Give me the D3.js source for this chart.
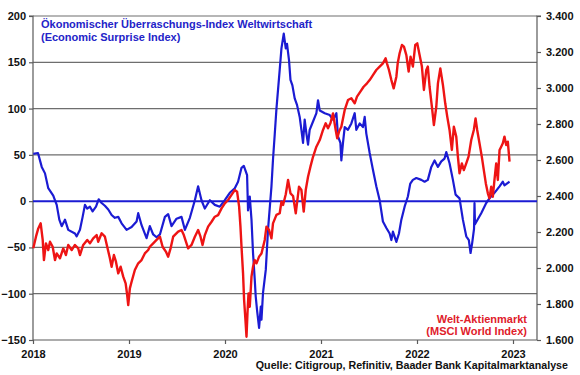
<!DOCTYPE html>
<html><head><meta charset="utf-8">
<script src="https://cdn.jsdelivr.net/npm/d3@7"></script>
<style>
html,body{margin:0;padding:0;background:#fff;}
svg{display:block;font-family:"Liberation Sans",Arial,sans-serif;font-weight:bold;}
</style></head>
<body><svg id="c" width="580" height="375"></svg>
<script>
// Economic Surprise Index (left axis): decimal year / value
const esiTime = [2018.003,2018.052,2018.091,2018.125,2018.159,2018.211,2018.247,2018.274,2018.299,2018.333,2018.367,2018.437,2018.455,2018.489,2018.517,2018.541,2018.565,2018.593,2018.621,2018.656,2018.684,2018.715,2018.749,2018.784,2018.819,2018.853,2018.888,2018.923,2018.975,2019.027,2019.079,2019.096,2019.131,2019.183,2019.217,2019.252,2019.287,2019.322,2019.374,2019.408,2019.443,2019.495,2019.547,2019.582,2019.634,2019.686,2019.720,2019.755,2019.790,2019.842,2019.894,2019.946,2019.998,2020.050,2020.102,2020.136,2020.172,2020.196,2020.230,2020.240,2020.258,2020.276,2020.292,2020.310,2020.320,2020.334,2020.355,2020.373,2020.380,2020.396,2020.425,2020.448,2020.484,2020.500,2020.518,2020.536,2020.570,2020.588,2020.612,2020.633,2020.646,2020.667,2020.682,2020.702,2020.726,2020.750,2020.778,2020.796,2020.813,2020.830,2020.848,2020.865,2020.882,2020.917,2020.952,2020.969,2020.987,2021.039,2021.091,2021.125,2021.160,2021.177,2021.202,2021.212,2021.229,2021.247,2021.281,2021.316,2021.351,2021.368,2021.403,2021.437,2021.455,2021.472,2021.507,2021.541,2021.576,2021.611,2021.645,2021.681,2021.715,2021.733,2021.749,2021.785,2021.812,2021.837,2021.871,2021.905,2021.930,2021.957,2021.993,2022.045,2022.079,2022.113,2022.149,2022.183,2022.218,2022.253,2022.287,2022.305,2022.339,2022.374,2022.402,2022.443,2022.478,2022.513,2022.540,2022.558,2022.575,2022.594,2022.599,2022.604,2022.669,2022.721,2022.755,2022.807,2022.860,2022.894,2022.911,2022.964];
const esiValue = [51,52,37,30,14,6,-4,-20,-27,-20,-31,-35,-38,-31,-17,-4,-8,-6,-11,-6,2,-2,-5,-9,-15,-18,-17,-24,-31,-28,-22,-13,-26,-40,-27,-36,-39,-36,-17,-14,-27,-19,-17,-31,-18,1,16,1,-8,1,-4,-6,1,9,14,21,36,38,28,-10,5,-20,-56,-85,-103,-118,-137,-114,-128,-99,-74,-31,16,45,72,100,142,165,181,165,170,152,131,125,111,104,91,77,63,88,73,61,77,86,95,109,98,95,93,88,95,70,63,44,63,80,77,84,95,77,84,80,91,73,52,34,16,1,-22,-29,-35,-42,-33,-44,-35,-20,-6,5,19,23,25,23,21,23,37,44,37,43,46,53,41,23,7,3,-20,-38,-42,-56,-45,-30,-2,-25,-13,-2,3,9,16,21,17,21];

// MSCI World Index (right axis): decimal year / value
const msciTime = [2018.003,2018.031,2018.055,2018.080,2018.101,2018.114,2018.135,2018.159,2018.177,2018.205,2018.229,2018.247,2018.281,2018.315,2018.343,2018.367,2018.403,2018.437,2018.471,2018.489,2018.523,2018.565,2018.593,2018.627,2018.663,2018.679,2018.715,2018.749,2018.773,2018.801,2018.819,2018.843,2018.864,2018.888,2018.913,2018.940,2018.965,2018.981,2018.992,2019.009,2019.027,2019.061,2019.096,2019.131,2019.165,2019.200,2019.217,2019.252,2019.287,2019.322,2019.350,2019.384,2019.408,2019.433,2019.460,2019.512,2019.547,2019.571,2019.616,2019.651,2019.686,2019.720,2019.745,2019.766,2019.790,2019.824,2019.860,2019.894,2019.928,2019.964,2019.998,2020.032,2020.068,2020.102,2020.126,2020.147,2020.161,2020.172,2020.188,2020.199,2020.213,2020.224,2020.234,2020.245,2020.258,2020.276,2020.292,2020.310,2020.328,2020.355,2020.380,2020.414,2020.432,2020.459,2020.484,2020.500,2020.536,2020.570,2020.588,2020.605,2020.633,2020.657,2020.682,2020.709,2020.737,2020.771,2020.796,2020.820,2020.841,2020.865,2020.890,2020.917,2020.952,2020.987,2021.021,2021.049,2021.073,2021.098,2021.125,2021.153,2021.169,2021.189,2021.212,2021.247,2021.281,2021.316,2021.351,2021.375,2021.410,2021.444,2021.479,2021.507,2021.541,2021.576,2021.611,2021.645,2021.673,2021.687,2021.708,2021.733,2021.757,2021.785,2021.799,2021.819,2021.843,2021.864,2021.889,2021.913,2021.933,2021.957,2021.982,2022.003,2022.027,2022.051,2022.072,2022.097,2022.113,2022.131,2022.155,2022.176,2022.201,2022.218,2022.243,2022.270,2022.294,2022.315,2022.339,2022.363,2022.384,2022.409,2022.426,2022.443,2022.467,2022.488,2022.513,2022.537,2022.565,2022.592,2022.610,2022.627,2022.651,2022.675,2022.696,2022.717,2022.738,2022.755,2022.773,2022.790,2022.807,2022.825,2022.842,2022.860,2022.877,2022.894,2022.911,2022.929,2022.946,2022.964];
const msciValue = [2110,2174,2220,2248,2156,2044,2137,2100,2146,2118,2044,2081,2054,2109,2072,2128,2100,2128,2109,2072,2128,2156,2137,2165,2183,2146,2193,2174,2118,2054,2007,2072,2035,1970,2007,1952,1915,1850,1794,1887,1924,1989,2026,2044,2081,2100,2118,2137,2156,2174,2118,2091,2063,2109,2174,2202,2211,2183,2109,2128,2174,2211,2174,2128,2183,2230,2257,2285,2294,2331,2359,2378,2406,2433,2424,2341,2230,2118,1970,1822,1711,1618,1748,1859,1785,1952,2007,2044,2026,2063,2081,2156,2230,2211,2165,2248,2295,2304,2369,2350,2410,2489,2415,2400,2304,2452,2433,2313,2433,2507,2563,2618,2674,2711,2767,2804,2776,2804,2859,2767,2720,2760,2785,2878,2933,2943,2915,2952,2980,3007,3026,3044,3072,3100,3119,3137,3165,3137,3100,3044,2998,3063,3137,3193,3239,3230,3183,3091,3174,3119,3239,3248,3183,3119,2989,3100,3119,3007,2896,2794,2896,3026,3109,3017,2915,2841,2767,2656,2785,2730,2619,2526,2581,2544,2581,2619,2711,2767,2831,2767,2693,2619,2544,2470,2415,2387,2452,2396,2489,2581,2489,2656,2674,2693,2730,2683,2702,2591];

const yearTicks = [2018,2019,2020,2021,2022,2023];
const leftTicks = [-150,-100,-50,0,50,100,150,200];
const rightTicks = [1600,1800,2000,2200,2400,2600,2800,3000,3200,3400];

const titleLines = ["Ökonomischer Überraschungs-Index Weltwirtschaft","(Economic Surprise Index)"];
const msciLabel = ["Welt-Aktienmarkt","(MSCI World Index)"];
const sourceText = "Quelle: Citigroup, Refinitiv, Baader Bank Kapitalmarktanalyse";

const W = 580, H = 375;
const m = {l:33, r:537, t:16, b:340};
const BLUE = "#1b1bd3", RED = "#ee1414", GRID = "#6e6e6e", AXIS = "#5a5a5a";

const svg = d3.select("#c");
const x = d3.scaleLinear().domain([2018, 2023.25]).range([m.l, m.r]);
const yL = d3.scaleLinear().domain([-150, 200]).range([m.b, m.t]);
const yR = d3.scaleLinear().domain([1600, 3400]).range([m.b, m.t]);
const de = d3.formatLocale({decimal:",", thousands:".", grouping:[3], currency:["","€"]});
const fmtR = de.format(",");

// gridlines
svg.append("g").selectAll("line").data(leftTicks.filter(d => d !== 0 && d !== -150))
  .join("line")
  .attr("x1", m.l).attr("x2", m.r)
  .attr("y1", d => yL(d)).attr("y2", d => yL(d))
  .attr("stroke", GRID).attr("stroke-width", 1.2);

// axes
const axL = svg.append("g").attr("transform", `translate(${m.l},0)`)
  .call(d3.axisLeft(yL).tickValues(leftTicks).tickSize(4).tickPadding(3).tickFormat(d3.format("d")));
const axR = svg.append("g").attr("transform", `translate(${m.r},0)`)
  .call(d3.axisRight(yR).tickValues(rightTicks).tickSize(4).tickPadding(5).tickFormat(fmtR));
const axB = svg.append("g").attr("transform", `translate(0,${m.b})`)
  .call(d3.axisBottom(x).tickValues(yearTicks).tickSize(4).tickPadding(6).tickFormat(d3.format("d")));
[axL, axR, axB].forEach(a => {
  a.select(".domain").attr("stroke", AXIS).attr("stroke-width", 1.2);
  a.selectAll(".tick line").attr("stroke", AXIS).attr("stroke-width", 1.2);
  a.selectAll(".tick text").attr("font-family", "Liberation Sans, Arial, sans-serif")
    .attr("font-weight", "bold").attr("font-size", 11).attr("fill", "#111");
});
axL.select(".domain").attr("d", `M-4,${m.t}H0V${m.b}`);
axR.select(".domain").attr("d", `M4,${m.t}H0V${m.b}`);
axB.select(".domain").attr("d", `M${m.l},0H${m.r}`);

// zero line
svg.append("line").attr("x1", m.l).attr("x2", m.r)
  .attr("y1", yL(0)).attr("y2", yL(0))
  .attr("stroke", BLUE).attr("stroke-width", 2);

// series
const esi = esiTime.map((t, i) => [t, esiValue[i]]);
const msci = msciTime.map((t, i) => [t, msciValue[i]]);
svg.append("path").datum(esi)
  .attr("fill", "none").attr("stroke", BLUE).attr("stroke-width", 2.2).attr("stroke-linejoin", "round")
  .attr("d", d3.line().x(d => x(d[0])).y(d => yL(d[1])));
svg.append("path").datum(msci)
  .attr("fill", "none").attr("stroke", RED).attr("stroke-width", 2.4).attr("stroke-linejoin", "round")
  .attr("d", d3.line().x(d => x(d[0])).y(d => yR(d[1])));

// texts
svg.append("g").selectAll("text").data(titleLines).join("text")
  .attr("x", 41).attr("y", (d, i) => 28 + i * 12.5)
  .attr("font-size", 11).attr("fill", "#2323c8").text(d => d);
svg.append("g").selectAll("text").data(msciLabel).join("text")
  .attr("x", 527).attr("y", (d, i) => 323 + i * 11.5).attr("text-anchor", "end")
  .attr("font-size", 11).attr("fill", "#e0202a").text(d => d);
svg.append("text").attr("x", 568).attr("y", 369).attr("text-anchor", "end")
  .attr("font-size", 10.7).attr("fill", "#111").text(sourceText);
</script></body></html>
